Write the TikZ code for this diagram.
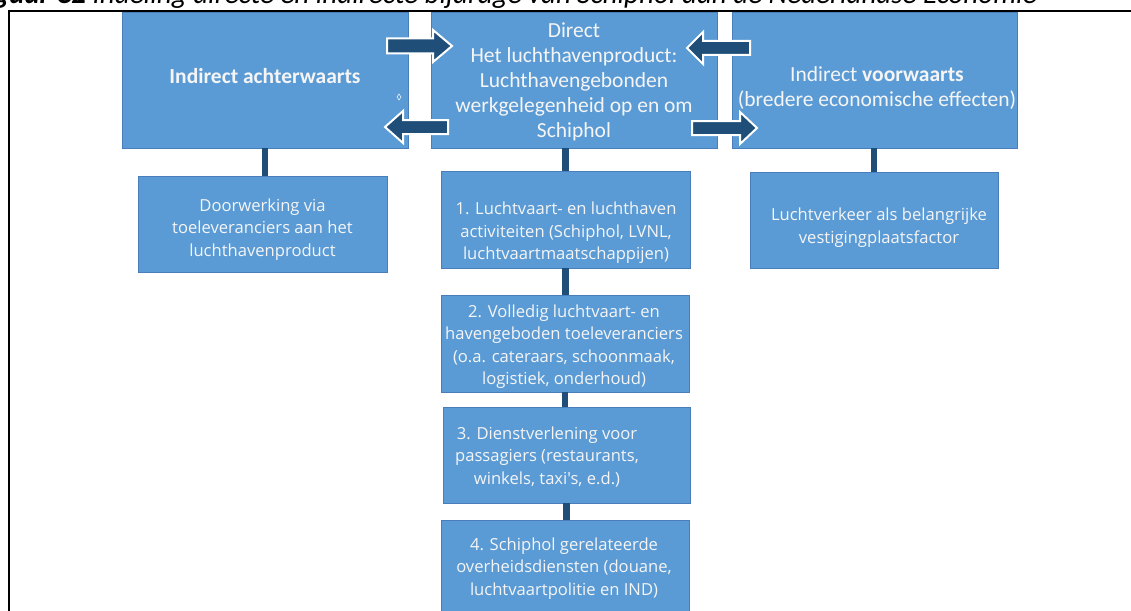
\documentclass[tikz,border=0pt]{standalone}
\usepackage{fontspec}
\setmainfont{Carlito}
\newfontfamily\boxfont{Open Sans}
\definecolor{boxblue}{RGB}{91,155,213}
\definecolor{boxline}{RGB}{74,126,187}
\definecolor{darkblue}{RGB}{31,78,121}
\definecolor{boxtext}{RGB}{245,245,245}

\begin{document}
\begin{tikzpicture}[x=1pt,y=-1pt,
  box/.style={fill=boxblue,draw=boxline,line width=0.8pt,inner sep=0pt},
  toptext/.style={text=boxtext,align=center,inner sep=0pt,font=\fontsize{21.5}{25}\selectfont},
  subtext/.style={text=boxtext,align=center,inner sep=0pt,font=\boxfont\fontsize{16.6}{22.5}\selectfont},
  link/.style={darkblue,line width=6.5pt},
  blockarrow/.style={fill=darkblue,draw=white,line width=2pt,line join=miter}]

\useasboundingbox (0,0) rectangle (1131,610);

\node[anchor=base east,inner sep=0pt,font=\itshape\fontsize{29}{32}\selectfont] (title) at (1037,3.5)
  {\textbf{Figuur C2} Indeling directe en indirecte bijdrage van Schiphol aan de Nederlandse Economie};
\draw[line width=2pt] (1140,11.5) -- (9,11.5) -- (9,620);

% top row
\node[box,minimum width=286pt,minimum height=135.5pt] (tl) at (265,80.25) {};
\node[box,minimum width=286pt,minimum height=135.5pt] (tc) at (574,80.25) {};
\node[box,minimum width=285pt,minimum height=135.5pt] (tr) at (874.5,80.25) {};
\node[toptext] (tltxt) at (265,76) {\textbf{Indirect achterwaarts}};
\node[toptext] (tctxt) at (574,82) {Direct\\Het luchthavenproduct:\\Luchthavengebonden\\werkgelegenheid op en om\\Schiphol};
\node[toptext] (trtxt) at (877,88) {Indirect \textbf{voorwaarts}\\(bredere economische effecten)};
\draw[white,line width=0.5pt] (399,94) -- (401,97) -- (399,100) -- (397,97) -- cycle;

% sub boxes
\node[box,minimum width=249pt,minimum height=96pt] (ls) at (262.5,224) {};
\node[box,minimum width=249pt,minimum height=97pt] (c1) at (565.5,219.5) {};
\node[box,minimum width=248pt,minimum height=96pt] (rs) at (874,220.5) {};
\node[box,minimum width=248pt,minimum height=97pt] (c2) at (565,343.5) {};
\node[box,minimum width=247pt,minimum height=96pt] (c3) at (566.5,455) {};
\node[box,minimum width=248pt,minimum height=100pt] (c4) at (565,570) {};

\node[subtext] (lstxt) at (262.5,229.5) {Doorwerking via\\toeleveranciers aan het\\luchthavenproduct};
\node[subtext] (c1txt) at (566,233) {1. Luchtvaart- en luchthaven\\activiteiten (Schiphol, LVNL,\\luchtvaartmaatschappijen)};
\node[subtext] (rstxt) at (879,227.5) {Luchtverkeer als belangrijke\\vestigingplaatsfactor};
\node[subtext] (c2txt) at (564,346.5) {2. Volledig luchtvaart- en\\havengeboden toeleveranciers\\(o.a. cateraars, schoonmaak,\\logistiek, onderhoud)};
\node[subtext] (c3txt) at (547,457) {3. Dienstverlening voor\\passagiers (restaurants,\\winkels, taxi's, e.d.)};
\node[subtext] (c4txt) at (564,568.5) {4. Schiphol gerelateerde\\overheidsdiensten (douane,\\luchtvaartpolitie en IND)};

% connectors
\draw[link] (tl.south) -- (tl.south |- ls.north);
\draw[link] (c1.north) -- (c1.north |- tc.south);
\draw[link] (rs.north) -- (rs.north |- tr.south);
\draw[link] (c1.south) -- (c1.south |- c2.north);
\draw[link] (c2.south) -- (c2.south |- c3.north);
\draw[link] (c3.south) -- (c3.south |- c4.north);

% block arrows
\draw[blockarrow] (387,38.5) -- (433,38.5) -- (433,30) -- (452,46) -- (433,62) -- (433,53.5) -- (387,53.5) -- cycle;
\draw[blockarrow] (750,41) -- (703,41) -- (703,32) -- (687,48) -- (703,64) -- (703,55) -- (750,55) -- cycle;
\draw[blockarrow] (448,120) -- (403,120) -- (403,111) -- (385,127) -- (403,143) -- (403,134) -- (448,134) -- cycle;
\draw[blockarrow] (692,121) -- (740,121) -- (740,112) -- (757,128) -- (740,144) -- (740,135) -- (692,135) -- cycle;

\end{tikzpicture}
\end{document}
